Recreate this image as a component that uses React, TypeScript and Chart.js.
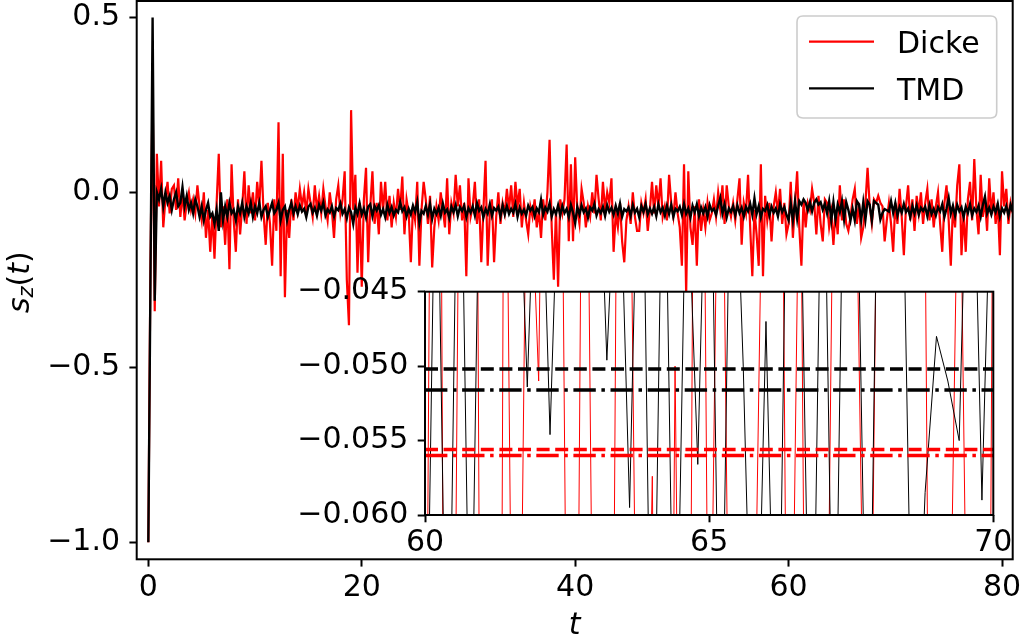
import React, { useEffect, useRef } from "react";
import { Chart, registerables } from "chart.js";

Chart.register(...registerables);

// ---- data (sampled every T_STEP starting at T_START) ----
const T_START = 0;
const T_STEP = 0.2;

const seriesLabels = ["Dicke", "TMD"];
const seriesColors = ["#ff0000", "#000000"];

const dicke = [
  -1.0, -0.2, 0.3, -0.34, 0.11,
  -0.04, 0.09, -0.1, -0.02, 0.03,
  -0.06, 0.01, 0.02, -0.05, 0.04,
  -0.07, 0.0, -0.08, -0.03, 0.0,
  -0.05, -0.02, -0.06, 0.02, -0.04,
  -0.08, 0.0, -0.13, -0.05, -0.17,
  -0.06, -0.19, -0.03, 0.11, -0.1,
  -0.04, -0.15, -0.02, -0.22, 0.08,
  -0.08, -0.17, -0.02, -0.12, -0.04,
  0.06, -0.09, 0.02, -0.06, 0.0,
  -0.08, 0.03, -0.04, 0.09, -0.06,
  -0.15, -0.03, -0.09, -0.21, -0.02,
  -0.11, 0.2, -0.24, 0.11, -0.3,
  -0.05, -0.13, -0.02, -0.08, 0.0,
  -0.05, 0.01, -0.04, 0.0, -0.06,
  0.01, -0.03, -0.07, 0.02, -0.05,
  -0.01, -0.06, 0.01, -0.04, -0.08,
  0.0, -0.05, -0.13, -0.02, 0.02,
  -0.06, -0.02, 0.06, -0.25, -0.38,
  0.235, -0.05, 0.05, -0.23, -0.03,
  -0.27, -0.02, 0.07, -0.2, -0.04,
  0.06, -0.09, -0.03, -0.12, 0.03,
  -0.05, 0.03, -0.08, -0.01, -0.1,
  -0.03, -0.07, 0.01, -0.05, 0.045,
  -0.12, -0.02, -0.06, -0.2, -0.04,
  -0.08, 0.03, -0.21, -0.05, 0.03,
  -0.02, -0.09, -0.01, -0.215, -0.1,
  -0.04, -0.08, 0.0, -0.05, -0.1,
  0.04, -0.12, -0.03, -0.06, 0.05,
  -0.04, 0.02, -0.08, -0.03, -0.24,
  0.04, -0.07, -0.04, 0.03, -0.09,
  -0.02, -0.2, -0.05, 0.09, -0.21,
  -0.06, -0.02, -0.2, -0.07, 0.0,
  -0.09, -0.03, -0.06, 0.01, -0.05,
  0.02, -0.07, 0.03, -0.04, 0.01,
  -0.1, -0.03, -0.08, -0.12, -0.04,
  -0.07, -0.02, -0.1, -0.05, -0.13,
  -0.02, -0.08, 0.0, 0.15, -0.1,
  -0.25, -0.05, -0.27, -0.02, -0.06,
  -0.02, 0.137, -0.14, 0.08, -0.14,
  0.1, -0.05, -0.09, 0.01, -0.03,
  -0.1, -0.04, -0.07, 0.0, -0.06,
  0.05, -0.02, -0.08, 0.03, -0.05,
  0.0, -0.03, 0.04, -0.17, -0.06,
  -0.1, -0.03, -0.14, -0.2, -0.08,
  -0.04, -0.09, 0.0, -0.07, -0.11,
  -0.11, -0.03, -0.06, -0.02, -0.11,
  -0.05, 0.03, -0.06, 0.02, -0.04,
  0.04, -0.07, -0.04, -0.08, 0.05,
  -0.03, -0.07, 0.0, -0.06, -0.1,
  -0.21, 0.08, -0.29, 0.06, -0.1,
  -0.15, -0.04, -0.21, -0.02, -0.11,
  -0.05, -0.1, -0.03, -0.08, -0.06,
  -0.02, -0.07, 0.0, -0.05, 0.02,
  -0.09, 0.02, -0.04, -0.07, -0.03,
  -0.08, -0.02, 0.04, -0.15, -0.03,
  -0.06, 0.05, -0.1, -0.24, -0.05,
  -0.12, -0.21, 0.08, -0.24, -0.01,
  -0.08, -0.03, -0.14, -0.04, 0.0,
  -0.06, 0.01, -0.09, -0.03, -0.12,
  -0.09, 0.03, -0.13, -0.035, 0.06,
  -0.1, -0.21, -0.02, -0.1, -0.03,
  -0.051, 0.01, -0.03, -0.12, -0.01,
  -0.09, -0.14, -0.02, -0.03, -0.1,
  -0.0574, -0.15, -0.05, -0.12, 0.02,
  -0.08, -0.02, -0.09, -0.11, -0.07,
  -0.02, 0.01, -0.09, -0.03, -0.13,
  -0.1, -0.03, 0.07, -0.04, -0.09,
  -0.02, -0.03, -0.01, -0.03, -0.04,
  -0.14, -0.08, -0.03, -0.09, -0.17,
  -0.03, -0.09, 0.01, -0.07, -0.18,
  -0.04, 0.02, -0.08, -0.02, -0.11,
  -0.01, -0.06, 0.0, -0.09, -0.03,
  0.01, -0.08, -0.02, -0.1, -0.04,
  0.0, -0.09, -0.17, -0.03, 0.02,
  -0.08, -0.21, -0.04, -0.1, 0.02,
  0.08, -0.18, -0.06, -0.17, -0.02,
  0.03, -0.08, 0.095, -0.05, -0.12,
  0.05, -0.07, -0.02, -0.11, 0.04,
  -0.06, 0.0, -0.09, -0.03, -0.18,
  0.06, -0.04, 0.01, -0.09, -0.03,
  -0.06,
];

const tmd = [
  -1.0, -0.25, 0.5, -0.31, 0.0,
  -0.02, 0.01, -0.04, 0.0, -0.03,
  -0.01, -0.05, -0.02, 0.0, -0.04,
  -0.03, 0.015, -0.04, -0.01, -0.05,
  -0.03, -0.06, -0.02, -0.04, -0.07,
  -0.04, -0.08, -0.05, -0.03, -0.07,
  -0.06, -0.09, -0.05, -0.11, 0.0,
  -0.08, -0.04, -0.07, -0.03, -0.06,
  -0.05, -0.08, -0.04, -0.06, -0.03,
  -0.07, -0.04, -0.06, -0.03, -0.07,
  -0.04, -0.06, -0.03, -0.07, -0.05,
  -0.04, -0.07, -0.05, -0.03, -0.06,
  -0.05, -0.03, -0.08, -0.05, -0.04,
  -0.08, -0.05, -0.03, -0.06, -0.04,
  -0.062, -0.038, -0.055, -0.047, -0.071,
  -0.041, -0.033, -0.058, -0.044, -0.067,
  -0.036, -0.052, -0.029, -0.066, -0.049,
  -0.058, -0.04, -0.069, -0.045, -0.051,
  -0.032, -0.061, -0.048, -0.074, -0.043,
  -0.057, -0.09, -0.044, -0.062, -0.031,
  -0.063, -0.046, -0.072, -0.041, -0.034,
  -0.068, -0.039, -0.052, -0.037, -0.064,
  -0.048, -0.071, -0.036, -0.059, -0.042,
  -0.066, -0.05, -0.057, -0.028, -0.054,
  -0.043, -0.069, -0.047, -0.063, -0.038,
  -0.056, -0.027, -0.088, -0.053, -0.061,
  -0.039, -0.064, -0.033, -0.076, -0.047,
  -0.062, -0.044, -0.067, -0.032, -0.058,
  -0.049, -0.073, -0.041, -0.057, -0.036,
  -0.068, -0.042, -0.053, -0.038, -0.071,
  -0.045, -0.058, -0.04, -0.066, -0.031,
  -0.053, -0.043, -0.072, -0.048, -0.061,
  -0.034, -0.067, -0.045, -0.052, -0.041,
  -0.069, -0.037, -0.063, -0.039, -0.062,
  -0.047, -0.058, -0.033, -0.07, -0.044,
  -0.061, -0.049, -0.066, -0.038, -0.052,
  -0.042, -0.068, -0.046, -0.057, -0.021,
  -0.064, -0.043, -0.055, -0.031, -0.069,
  -0.048, -0.062, -0.037, -0.066, -0.039,
  -0.059, -0.047, -0.071, -0.036, -0.058,
  -0.088, -0.041, -0.063, -0.037, -0.057,
  -0.046, -0.072, -0.043, -0.052, -0.033,
  -0.066, -0.048, -0.059, -0.042, -0.068,
  -0.037, -0.056, -0.044, -0.064, -0.038,
  -0.061, -0.032, -0.069, -0.048, -0.054,
  -0.043, -0.067, -0.036, -0.058, -0.047,
  -0.071, -0.039, -0.056, -0.033, -0.063,
  -0.046, -0.061, -0.042, -0.068, -0.034,
  -0.057, -0.044, -0.066, -0.038, -0.062,
  -0.036, -0.07, -0.047, -0.054, -0.041,
  -0.064, -0.033, -0.061, -0.046, -0.072,
  -0.038, -0.057, -0.034, -0.067, -0.043,
  -0.06, -0.042, -0.069, -0.036, -0.053,
  -0.047, -0.064, -0.038, -0.016, -0.061,
  -0.034, -0.071, -0.046, -0.056, -0.039,
  -0.066, -0.037, -0.059, -0.044, -0.069,
  -0.041, -0.054, -0.033, -0.064, -0.017,
  -0.062, -0.039, -0.072, -0.047, -0.053,
  -0.036, -0.066, -0.041, -0.058, -0.046,
  -0.069, -0.034, -0.056, -0.042, -0.064,
  -0.08, -0.03, -0.08, -0.025, -0.075,
  -0.025, -0.035, -0.02, -0.03, -0.0514,
  -0.028, -0.0546, -0.03, -0.02, -0.035,
  -0.028, -0.0496, -0.032, -0.0595, -0.025,
  -0.08, -0.028, -0.078, -0.035, -0.0566,
  -0.025, -0.078, -0.028, -0.05, -0.08,
  -0.047, -0.08, -0.025, -0.035, -0.08,
  -0.028, -0.078, -0.025, -0.035, -0.08,
  -0.025, -0.03, -0.035, -0.078, -0.0585,
  -0.048, -0.051, -0.055, -0.025, -0.059,
  -0.03, -0.066, -0.042, -0.058, -0.033,
  -0.056, -0.046, -0.071, -0.039, -0.061,
  -0.037, -0.064, -0.044, -0.053, -0.041,
  -0.068, -0.036, -0.062, -0.047, -0.066,
  -0.042, -0.054, -0.034, -0.07, -0.046,
  -0.016, -0.061, -0.038, -0.067, -0.036,
  -0.054, -0.043, -0.071, -0.041, -0.059,
  -0.034, -0.066, -0.046, -0.056, -0.038,
  -0.069, -0.036, -0.012, -0.061, -0.044,
  -0.064, -0.041, -0.057, -0.033, -0.07,
  -0.046, -0.058, -0.039, -0.066, -0.036,
  -0.055,
];

// time-averaged levels shown in the inset
const tmdMeanDashed = -0.0502;
const tmdMeanDashDot = -0.0516;
const dickeMeanDashed = -0.0556;
const dickeMeanDashDot = -0.056;

const mainXTicks = [0, 20, 40, 60, 80];
const mainYTicks = [-1.0, -0.5, 0.0, 0.5];
const insetXTicks = [60, 65, 70];
const insetYTicks = [-0.06, -0.055, -0.05, -0.045];

// ---- helpers ----
const FONT = "'DejaVu Sans', 'Liberation Sans', sans-serif";
const FS = 30;
const toPoints = (vals: number[]) =>
  vals.map((v, i) => ({ x: T_START + i * T_STEP, y: v }));
const minus = (s: string) => s.replace("-", "\u2212");

const framePlugin = {
  id: "frame",
  afterDraw(chart: any) {
    const { ctx, chartArea: a } = chart;
    ctx.save();
    ctx.strokeStyle = "#000";
    ctx.lineWidth = 2;
    ctx.strokeRect(a.left, a.top, a.right - a.left, a.bottom - a.top);
    ctx.restore();
  },
};

const whiteAreaPlugin = {
  id: "whiteArea",
  beforeDraw(chart: any) {
    const { ctx, chartArea: a } = chart;
    ctx.save();
    ctx.fillStyle = "#ffffff";
    ctx.fillRect(a.left, a.top, a.right - a.left, a.bottom - a.top);
    ctx.restore();
  },
};

const yLabelPlugin = {
  id: "yLabel",
  afterDraw(chart: any) {
    const ctx = chart.ctx;
    ctx.save();
    ctx.fillStyle = "#000";
    const it = `italic ${FS}px ${FONT}`;
    const sub = `italic ${Math.round(FS * 0.7)}px ${FONT}`;
    const up = `${FS}px ${FONT}`;
    ctx.font = it;
    const ws = ctx.measureText("s").width;
    const wt = ctx.measureText("t").width;
    ctx.font = sub;
    const wz = ctx.measureText("z").width;
    ctx.font = up;
    const wl = ctx.measureText("(").width;
    const wr = ctx.measureText(")").width;
    const total = ws + wz + wl + wt + wr;
    const cy = (chart.chartArea.top + chart.chartArea.bottom) / 2 + 2;
    ctx.translate(28.5, cy + total / 2);
    ctx.rotate(-Math.PI / 2);
    ctx.textBaseline = "alphabetic";
    ctx.textAlign = "left";
    let x = 0;
    ctx.font = it;
    ctx.fillText("s", x, 0);
    x += ws;
    ctx.font = sub;
    ctx.fillText("z", x, 4.5);
    x += wz;
    ctx.font = up;
    ctx.fillText("(", x, 0);
    x += wl;
    ctx.font = it;
    ctx.fillText("t", x, 0);
    x += wt;
    ctx.font = up;
    ctx.fillText(")", x, 0);
    ctx.restore();
  },
};

const legendPlugin = {
  id: "legendBox",
  afterDraw(chart: any) {
    const ctx = chart.ctx;
    const bx = 797, by = 16, bw = 199.7, bh = 102, r = 6;
    ctx.save();
    ctx.beginPath();
    ctx.moveTo(bx + r, by);
    ctx.lineTo(bx + bw - r, by);
    ctx.quadraticCurveTo(bx + bw, by, bx + bw, by + r);
    ctx.lineTo(bx + bw, by + bh - r);
    ctx.quadraticCurveTo(bx + bw, by + bh, bx + bw - r, by + bh);
    ctx.lineTo(bx + r, by + bh);
    ctx.quadraticCurveTo(bx, by + bh, bx, by + bh - r);
    ctx.lineTo(bx, by + r);
    ctx.quadraticCurveTo(bx, by, bx + r, by);
    ctx.closePath();
    ctx.fillStyle = "rgba(255,255,255,0.8)";
    ctx.fill();
    ctx.strokeStyle = "#cccccc";
    ctx.lineWidth = 1.6;
    ctx.stroke();
    const rows = [41.7, 88.3];
    ctx.font = `${FS}px ${FONT}`;
    ctx.textBaseline = "alphabetic";
    ctx.textAlign = "left";
    seriesLabels.forEach((lab, i) => {
      ctx.strokeStyle = seriesColors[i];
      ctx.lineWidth = 2.2;
      ctx.beginPath();
      ctx.moveTo(809, rows[i]);
      ctx.lineTo(874, rows[i]);
      ctx.stroke();
      ctx.fillStyle = "#000";
      ctx.fillText(lab, 897, rows[i] + 11.3);
    });
    ctx.restore();
  },
};

const tickFont = { family: FONT, size: FS };
const gridOpts = {
  display: true,
  drawOnChartArea: false,
  drawTicks: true,
  tickLength: 7.3,
  tickWidth: 2,
  tickColor: "#000",
};

export default function App() {
  const mainRef = useRef<HTMLCanvasElement | null>(null);
  const insetRef = useRef<HTMLCanvasElement | null>(null);

  useEffect(() => {
    if (!mainRef.current || !insetRef.current) return;

    const main = new Chart(mainRef.current, {
      type: "line",
      data: {
        datasets: [
          {
            label: seriesLabels[0],
            data: toPoints(dicke),
            borderColor: seriesColors[0],
            borderWidth: 2.2,
            pointRadius: 0,
            order: 2,
            clip: 0,
          },
          {
            label: seriesLabels[1],
            data: toPoints(tmd),
            borderColor: seriesColors[1],
            borderWidth: 2.4,
            pointRadius: 0,
            order: 1,
            clip: 0,
          },
        ],
      },
      options: {
        animation: false,
        responsive: false,
        events: [],
        parsing: false,
        layout: { padding: { left: 0, top: 1, right: 7.3, bottom: 0 } },
        plugins: { legend: { display: false }, tooltip: { enabled: false } },
        scales: {
          x: {
            type: "linear",
            min: -1.09,
            max: 81.0,
            afterBuildTicks: (s: any) => {
              s.ticks = mainXTicks.map((v) => ({ value: v }));
            },
            afterFit: (s: any) => {
              s.height = 78.7;
              s.paddingLeft = 0;
              s.paddingRight = 0;
            },
            ticks: {
              font: tickFont,
              color: "#000",
              padding: 3.3,
              maxRotation: 0,
              minRotation: 0,
              autoSkip: false,
              callback: (v: any) => minus(String(v)),
            },
            grid: gridOpts,
            border: { display: false },
            title: {
              display: true,
              text: "t",
              color: "#000",
              font: { family: FONT, size: FS, style: "italic" },
              padding: { top: 0, bottom: -6.5 },
            },
          },
          y: {
            type: "linear",
            min: -1.049,
            max: 0.547,
            afterBuildTicks: (s: any) => {
              s.ticks = mainYTicks.map((v) => ({ value: v }));
            },
            afterFit: (s: any) => {
              s.width = 136.7;
              s.paddingTop = 0;
              s.paddingBottom = 0;
            },
            ticks: {
              font: tickFont,
              color: "#000",
              padding: 9.4,
              autoSkip: false,
              callback: (v: any) => minus(Number(v).toFixed(1)),
            },
            grid: gridOpts,
            border: { display: false },
          },
        },
      },
      plugins: [framePlugin, yLabelPlugin, legendPlugin],
    } as any);

    const meanLine = (y: number, color: string, dash: number[]) => ({
      data: [
        { x: insetXTicks[0], y },
        { x: insetXTicks[insetXTicks.length - 1], y },
      ],
      borderColor: color,
      borderWidth: 3.5,
      borderDash: dash,
      pointRadius: 0,
      order: 0,
      clip: 0,
    });
    const dashed = [13, 5.6];
    const dashDot = [22.4, 5.6, 3.5, 5.6];

    const inset = new Chart(insetRef.current, {
      type: "line",
      data: {
        datasets: [
          meanLine(tmdMeanDashed, seriesColors[1], dashed),
          meanLine(tmdMeanDashDot, seriesColors[1], dashDot),
          meanLine(dickeMeanDashed, seriesColors[0], dashed),
          meanLine(dickeMeanDashDot, seriesColors[0], dashDot),
          {
            data: toPoints(tmd),
            borderColor: seriesColors[1],
            borderWidth: 1,
            pointRadius: 0,
            order: 2,
            clip: 0,
          },
          {
            data: toPoints(dicke),
            borderColor: seriesColors[0],
            borderWidth: 1,
            pointRadius: 0,
            order: 3,
            clip: 0,
          },
        ],
      },
      options: {
        animation: false,
        responsive: false,
        events: [],
        parsing: false,
        layout: { padding: { left: 0, top: 21.7, right: 26.7, bottom: 5 } },
        plugins: { legend: { display: false }, tooltip: { enabled: false } },
        scales: {
          x: {
            type: "linear",
            min: 60,
            max: 70,
            afterBuildTicks: (s: any) => {
              s.ticks = insetXTicks.map((v) => ({ value: v }));
            },
            afterFit: (s: any) => {
              s.height = 50;
              s.paddingLeft = 0;
              s.paddingRight = 0;
            },
            ticks: {
              font: tickFont,
              color: "#000",
              padding: 3.3,
              maxRotation: 0,
              minRotation: 0,
              autoSkip: false,
              callback: (v: any) => minus(String(v)),
            },
            grid: gridOpts,
            border: { display: false },
          },
          y: {
            type: "linear",
            min: -0.06,
            max: -0.045,
            afterBuildTicks: (s: any) => {
              s.ticks = insetYTicks.map((v) => ({ value: v }));
            },
            afterFit: (s: any) => {
              s.width = 145;
              s.paddingTop = 0;
              s.paddingBottom = 0;
            },
            ticks: {
              font: tickFont,
              color: "#000",
              padding: 9.4,
              autoSkip: false,
              callback: (v: any) => minus(Number(v).toFixed(3)),
            },
            grid: gridOpts,
            border: { display: false },
          },
        },
      },
      plugins: [whiteAreaPlugin, framePlugin],
    } as any);

    return () => {
      main.destroy();
      inset.destroy();
    };
  }, []);

  return (
    <div
      style={{
        position: "fixed",
        left: 0,
        top: 0,
        width: 1020,
        height: 638,
        background: "#ffffff",
        overflow: "hidden",
      }}
    >
      <canvas
        ref={mainRef}
        width={1020}
        height={638}
        style={{ position: "absolute", left: 0, top: 0, width: 1020, height: 638 }}
      />
      <canvas
        ref={insetRef}
        width={740}
        height={300}
        style={{ position: "absolute", left: 280, top: 270, width: 740, height: 300 }}
      />
    </div>
  );
}
